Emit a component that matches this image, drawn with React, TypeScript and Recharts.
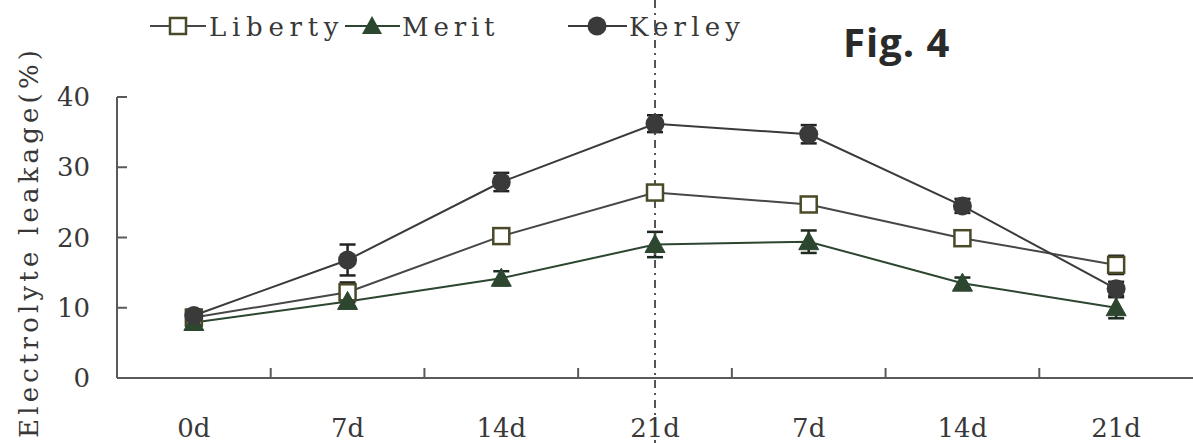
import { LineChart, Line, XAxis, YAxis, ErrorBar, ReferenceLine } from "recharts";

// sampling stages (second 7d/14d/21d = recovery), shown with repeated labels
const stages = ["0d", "7d", "14d", "21d", "r7d", "r14d", "r21d"];
const tickLabels = ["0d", "7d", "14d", "21d", "7d", "14d", "21d"];
const yTicks = [0, 10, 20, 30, 40];

const liberty = [8.6, 12.2, 20.2, 26.4, 24.7, 19.9, 16.1];
const libertyErr = [0.5, 1.4, 0.8, 0.9, 0.9, 0.8, 1.3];
const merit = [7.9, 10.9, 14.2, 19.0, 19.4, 13.5, 10.0];
const meritErr = [0.5, 0.7, 1.0, 1.8, 1.6, 0.8, 1.5];
const kerley = [8.9, 16.8, 27.9, 36.2, 34.7, 24.5, 12.7];
const kerleyErr = [0.8, 2.2, 1.3, 1.2, 1.3, 1.0, 1.0];

const data = stages.map((stage, i) => ({
  stage,
  liberty: liberty[i],
  libertyErr: libertyErr[i],
  merit: merit[i],
  meritErr: meritErr[i],
  kerley: kerley[i],
  kerleyErr: kerleyErr[i],
}));

const W = 1193;
const H = 443;
const Y_AXIS_W = 117;
const X_AXIS_H = 65;
const TOP = 97;
const PLOT_W = W - Y_AXIS_W;
const BAND = PLOT_W / stages.length;
const PLOT_BOTTOM = H - X_AXIS_H;

const SERIF = "'DejaVu Serif', 'Liberation Serif', serif";
const TEXT = "#383838";
const AXIS = "#5a5a5a";

const C_LIB = "#4a4a28";
const C_LIB_LINE = "#474747";
const C_MER = "#2c4630";
const C_KER = "#3a3a3a";

function StageTick(props: any) {
  const { x, index } = props;
  return (
    <g>
      {index < stages.length - 1 && (
        <line
          x1={x + BAND / 2}
          x2={x + BAND / 2}
          y1={PLOT_BOTTOM}
          y2={PLOT_BOTTOM - 10}
          stroke={AXIS}
          strokeWidth={2}
        />
      )}
      <text x={x} y={PLOT_BOTTOM + 59} textAnchor="middle" fontSize={26} style={{ fontFamily: SERIF }} fill={TEXT}>
        {tickLabels[index]}
      </text>
    </g>
  );
}

function SquareDot(props: any) {
  const { cx, cy, index } = props;
  return <rect key={`sq-${index}`} x={cx - 8} y={cy - 8} width={16} height={16} fill="#fff" stroke={C_LIB} strokeWidth={2.5} />;
}

function TriangleDot(props: any) {
  const { cx, cy, index } = props;
  return (
    <polygon
      key={`tr-${index}`}
      points={`${cx},${cy - 10} ${cx + 10},${cy + 8} ${cx - 10},${cy + 8}`}
      fill={C_MER}
      stroke={C_MER}
      strokeWidth={1}
    />
  );
}

function CircleDot(props: any) {
  const { cx, cy, index } = props;
  return <circle key={`ci-${index}`} cx={cx} cy={cy} r={9.5} fill={C_KER} />;
}

function YTitle() {
  return (
    <text
      x={29}
      y={244}
      transform="rotate(-90 29 244)"
      textAnchor="middle"
      dominantBaseline="central"
      fontSize={26}
      style={{ fontFamily: SERIF }}
      fill={TEXT}
      textLength={388}
      lengthAdjust="spacing"
    >
      Electrolyte leakage(%)
    </text>
  );
}

function DashDotLine(props: any) {
  const { x1 } = props;
  return <line x1={x1} x2={x1} y1={0} y2={H} stroke="#555" strokeWidth={2} strokeDasharray="8 5 2 5" />;
}

function LegendRow() {
  const ty = 36;
  const my = 26;
  const text = (x: number, label: string) => (
    <text x={x} y={ty} fontSize={26} style={{ fontFamily: SERIF }} fill={TEXT} textLength={label.length * 18.5} lengthAdjust="spacing">
      {label}
    </text>
  );
  return (
    <svg width={800} height={50} style={{ position: "absolute", left: 0, top: 0 }}>
      <line x1={150} x2={206} y1={my} y2={my} stroke={C_LIB_LINE} strokeWidth={2} />
      <rect x={170} y={my - 8} width={16} height={16} fill="#fff" stroke={C_LIB} strokeWidth={2.5} />
      {text(209, "Liberty")}
      <line x1={345} x2={400} y1={my} y2={my} stroke={C_MER} strokeWidth={2} />
      <polygon points={`372,${my - 10} 382,${my + 8} 362,${my + 8}`} fill={C_MER} />
      {text(402, "Merit")}
      <line x1={568} x2={627} y1={my} y2={my} stroke={C_KER} strokeWidth={2} />
      <circle cx={597} cy={my} r={9.5} fill={C_KER} />
      {text(629, "Kerley")}
      <line x1={655} x2={655} y1={0} y2={50} stroke="#555" strokeWidth={2} strokeDasharray="8 5 2 5" />
    </svg>
  );
}

export default function App() {
  return (
    <div style={{ position: "absolute", left: 0, top: 0, width: W, height: H, background: "#fff" }}>
      <LineChart width={W} height={H} data={data} margin={{ top: TOP, right: 0, bottom: 0, left: 0 }}>
        <XAxis
          dataKey="stage"
          height={X_AXIS_H}
          padding={{ left: BAND / 2, right: BAND / 2 }}
          axisLine={{ stroke: AXIS, strokeWidth: 2 }}
          tickLine={false}
          tick={<StageTick />}
          interval={0}
        />
        <YAxis
          width={Y_AXIS_W}
          domain={[0, 40]}
          ticks={yTicks}
          tickSize={-10}
          tickMargin={37}
          axisLine={{ stroke: AXIS, strokeWidth: 2 }}
          tickLine={{ stroke: AXIS, strokeWidth: 2 }}
          tick={{ fontSize: 26, style: { fontFamily: SERIF }, fill: TEXT }}
          label={<YTitle />}
        />
        <Line dataKey="liberty" stroke={C_LIB_LINE} strokeWidth={2} dot={<SquareDot />} isAnimationActive={false}>
          <ErrorBar dataKey="libertyErr" direction="y" width={8} stroke="#222" strokeWidth={2.5} />
        </Line>
        <Line dataKey="merit" stroke={C_MER} strokeWidth={2} dot={<TriangleDot />} isAnimationActive={false}>
          <ErrorBar dataKey="meritErr" direction="y" width={8} stroke="#1f2a20" strokeWidth={2.5} />
        </Line>
        <Line dataKey="kerley" stroke={C_KER} strokeWidth={2} dot={<CircleDot />} isAnimationActive={false}>
          <ErrorBar dataKey="kerleyErr" direction="y" width={8} stroke="#222" strokeWidth={2.5} />
        </Line>
        <ReferenceLine x="21d" shape={<DashDotLine />} ifOverflow="visible" />
      </LineChart>
      <LegendRow />
      <div
        style={{
          position: "absolute",
          left: 843,
          top: 22,
          fontFamily: "Open Sans, Noto Sans, sans-serif",
          fontWeight: 700,
          fontSize: 40,
          letterSpacing: 1,
          lineHeight: 1,
          color: "#2a2a2a",
        }}
      >
        Fig. 4
      </div>
    </div>
  );
}
